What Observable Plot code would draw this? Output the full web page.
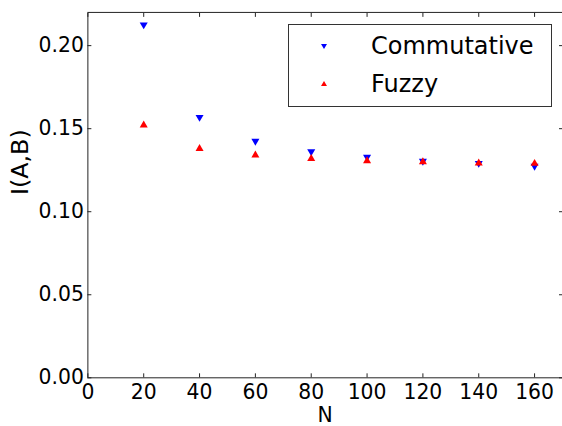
<!DOCTYPE html>
<html>
<head>
<meta charset="utf-8">
<script src="https://cdn.jsdelivr.net/npm/d3@7"></script>
<script src="https://cdn.jsdelivr.net/npm/@observablehq/plot@0.6"></script>
<style>
  html, body { margin: 0; padding: 0; background: #fff; overflow: hidden; }
  #wrap { position: relative; width: 562px; height: 426px; overflow: hidden; font-family: "DejaVu Sans", sans-serif; }
  #legend { position: absolute; left: 288px; top: 24px; width: 264px; height: 83px; border: 1px solid #333; background: #fff; box-sizing: border-box; }
  .row { position: absolute; left: 0; width: 100%; height: 0; }
  .row svg { position: absolute; left: 29px; top: -6px; }
  .row span { position: absolute; left: 82px; top: -15px; font-size: 24px; color: #000; white-space: nowrap; line-height: 30px; }
</style>
</head>
<body>
<div id="wrap">
  <div id="chart"></div>
  <div id="legend">
    <div class="row" style="top:21px"><svg width="12" height="12" viewBox="-6 -6 12 12"><polygon points="-3,-2 3,-2 0,3" fill="#0000ff"/></svg><span>Commutative</span></div>
    <div class="row" style="top:59px"><svg width="12" height="12" viewBox="-6 -6 12 12"><polygon points="-3,2 3,2 0,-3" fill="#ff0000"/></svg><span>Fuzzy</span></div>
  </div>
</div>
<script>
const N = [20, 40, 60, 80, 100, 120, 140, 160];
const commutative = [0.2126, 0.1569, 0.1425, 0.1362, 0.1329, 0.1305, 0.1292, 0.1275];
const fuzzy = [0.1521, 0.1380, 0.1340, 0.1320, 0.1306, 0.1300, 0.1292, 0.1290];
const xTicks = [0, 20, 40, 60, 80, 100, 120, 140, 160];
const yTicks = [0.00, 0.05, 0.10, 0.15, 0.20];
const yLabel = ["I(A,B)"];
const xLabel = ["N"];

const commData = N.map((n, i) => ({N: n, v: commutative[i]}));
const fuzzData = N.map((n, i) => ({N: n, v: fuzzy[i]}));

const chart = Plot.plot({
  width: 566,
  height: 426,
  marginLeft: 88,
  marginRight: 0,
  marginTop: 12,
  marginBottom: 46,
  style: {fontFamily: "DejaVu Sans, sans-serif", fontSize: "20.5px", color: "#000", background: "transparent"},
  x: {domain: [0, 170]},
  y: {domain: [0, 0.22]},
  marks: [
    Plot.frame({stroke: "#222", strokeWidth: 1}),
    // inward tick marks on all four sides
    Plot.axisX(xTicks, {anchor: "bottom", tickSize: -4, tickFormat: () => "", label: null, stroke: "#222"}),
    Plot.axisX(xTicks, {anchor: "top", tickSize: -4, tickFormat: () => "", label: null, stroke: "#222"}),
    Plot.axisY(yTicks, {anchor: "left", tickSize: -4, tickFormat: () => "", label: null, stroke: "#222"}),
    Plot.axisY(yTicks, {anchor: "right", tickSize: -4, tickFormat: () => "", label: null, stroke: "#222"}),
    // tick labels
    Plot.axisX(xTicks, {anchor: "bottom", tickSize: 0, tickPadding: 7, tickFormat: d => String(d), label: null, fill: "#000"}),
    Plot.axisY(yTicks, {anchor: "left", tickSize: 0, tickPadding: 4, tickFormat: d3.format(".2f"), label: null, fill: "#000"}),
    // axis titles
    Plot.text(xLabel, {text: d => d, frameAnchor: "bottom", dy: 30, lineAnchor: "top", fontSize: 20.5, fill: "#000"}),
    Plot.text(yLabel, {text: d => d, frameAnchor: "left", dx: -68, rotate: -90, lineAnchor: "middle", fontSize: 24, fill: "#000"}),
    // data
    Plot.dot(commData, {x: "N", y: "v", symbol: "triangle", rotate: 180, r: 3, fill: "#0000ff", stroke: "none"}),
    Plot.dot(fuzzData, {x: "N", y: "v", symbol: "triangle", r: 3, fill: "#ff0000", stroke: "none"})
  ]
});
document.getElementById("chart").appendChild(chart);
</script>
</body>
</html>
